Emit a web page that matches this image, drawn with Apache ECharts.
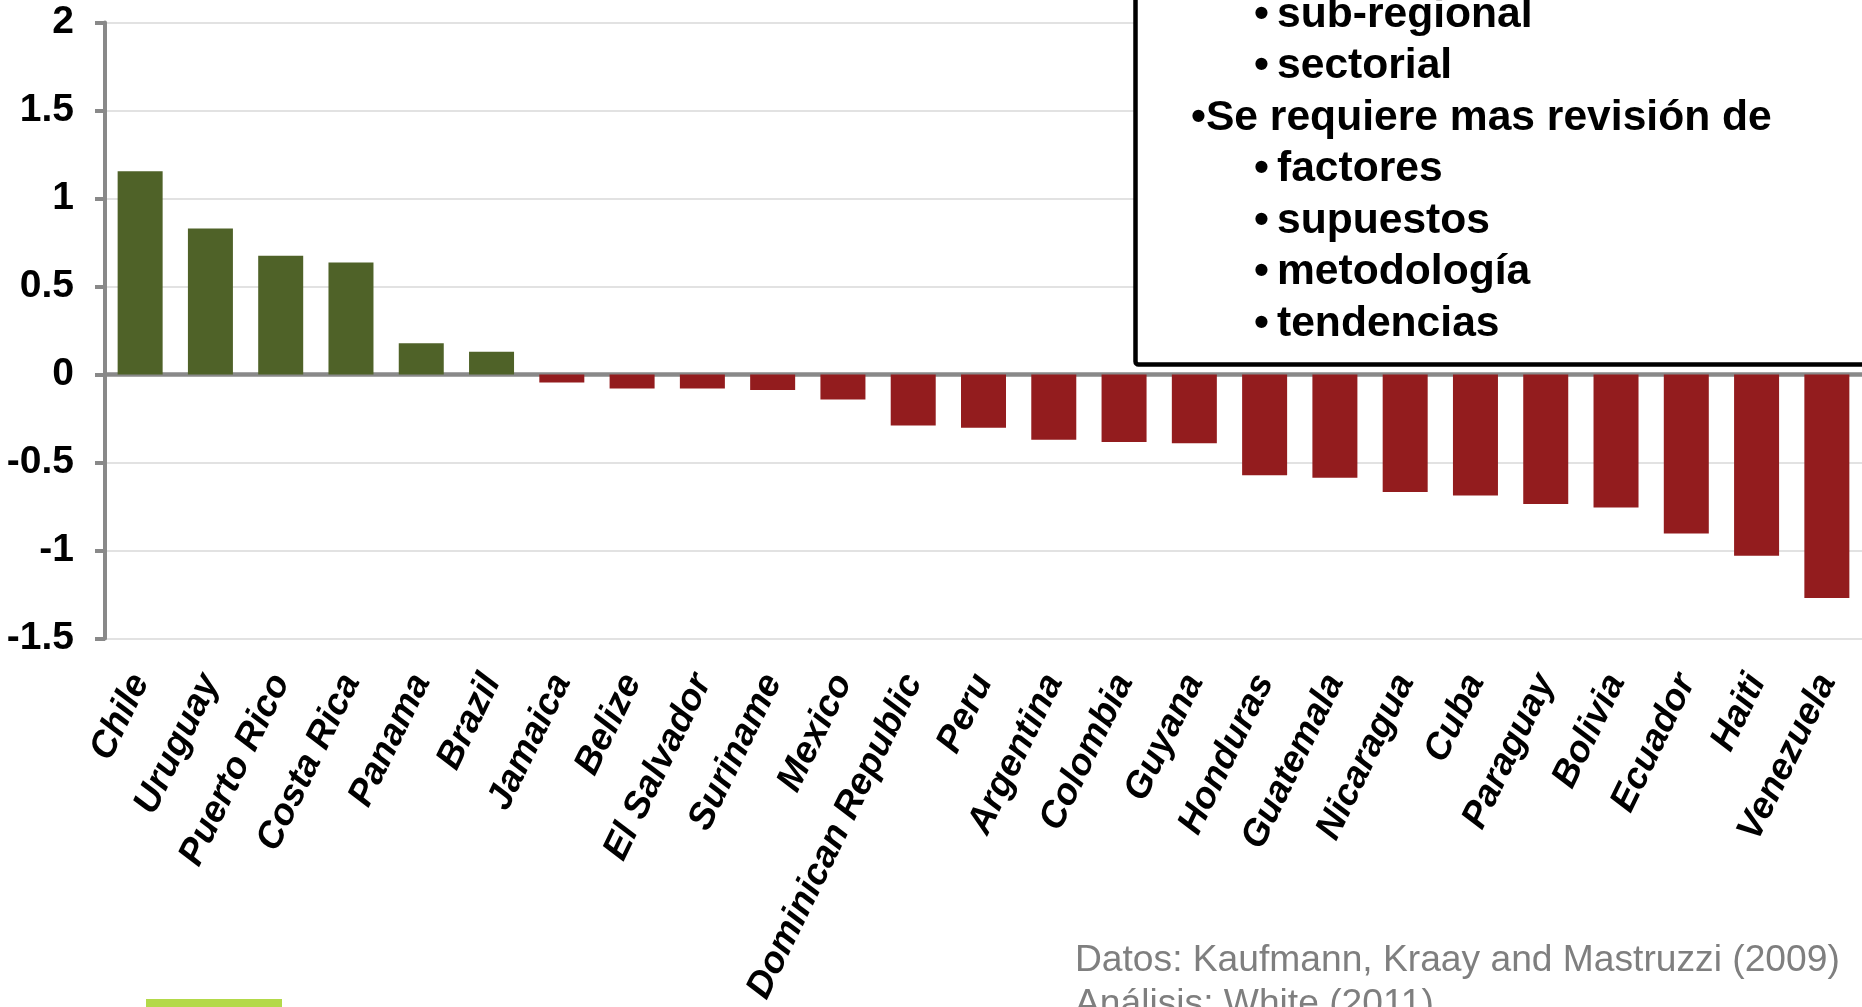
<!DOCTYPE html>
<html>
<head>
<meta charset="utf-8">
<script src="https://cdn.jsdelivr.net/npm/echarts@6/dist/echarts.min.js"></script>
<style>
html,body{margin:0;padding:0;background:#fff;}
#chart{width:1862px;height:1007px;}
</style>
</head>
<body>
<div id="chart"></div>
<script>
var countries = ["Chile","Uruguay","Puerto Rico","Costa Rica","Panama","Brazil","Jamaica","Belize","El Salvador","Suriname","Mexico","Dominican Republic","Peru","Argentina","Colombia","Guyana","Honduras","Guatemala","Nicaragua","Cuba","Paraguay","Bolivia","Ecuador","Haiti","Venezuela"];
var values = [1.155,0.83,0.675,0.637,0.177,0.13,-0.045,-0.08,-0.08,-0.088,-0.142,-0.29,-0.303,-0.37,-0.383,-0.39,-0.573,-0.587,-0.667,-0.687,-0.735,-0.755,-0.903,-1.03,-1.27];
var yTicks = {min:-1.5, max:2, interval:0.5};
var boxLines = [
  {t:"sub-regional", sub:true},
  {t:"sectorial", sub:true},
  {t:"•Se requiere mas revisión de", sub:false},
  {t:"factores", sub:true},
  {t:"supuestos", sub:true},
  {t:"metodología", sub:true},
  {t:"tendencias", sub:true}
];
var sourceLines = ["Datos: Kaufmann, Kraay and Mastruzzi (2009)","Análisis: White (2011)"];

var FONT = "'Liberation Sans', Arial, Helvetica, sans-serif";
var chart = echarts.init(document.getElementById('chart'), null, {renderer:'canvas'});

var graphics = [];
graphics.push({
  type:'rect', z:100,
  shape:{x:1135.5, y:-20, width:800, height:384.5, r:3},
  style:{fill:'#fff', stroke:'#000', lineWidth:4.5}
});
boxLines.forEach(function(l, i){
  var y = 30 + i*51.5 - 15;
  var font = 'bold 42.6px ' + FONT;
  if (l.sub) {
    graphics.push({type:'text', z:101, x:1254, y:y,
      style:{text:'•', font:font, fill:'#000', verticalAlign:'middle', align:'left'}});
    graphics.push({type:'text', z:101, x:1277, y:y,
      style:{text:l.t, font:font, fill:'#000', verticalAlign:'middle', align:'left'}});
  } else {
    graphics.push({type:'text', z:101, x:1191, y:y,
      style:{text:l.t, font:font, fill:'#000', verticalAlign:'middle', align:'left'}});
  }
});
sourceLines.forEach(function(s, i){
  graphics.push({
    type:'text', z:101,
    x:1075, y:961 + i*44,
    style:{text:s, font:'37.2px ' + FONT, fill:'#7f7f7f', verticalAlign:'middle', align:'left'}
  });
});
graphics.push({
  type:'rect', z:101,
  shape:{x:146, y:999, width:136, height:10},
  style:{fill:'#b3d94a'}
});

chart.setOption({
  animation:false,
  backgroundColor:'#fff',
  grid:{left:105, right:-2, top:22.5, bottom:368, containLabel:false},
  xAxis:{
    type:'category',
    data:countries,
    axisLine:{onZero:true, lineStyle:{color:'#898989', width:4.5}},
    axisTick:{show:false},
    axisLabel:{
      interval:0, rotate:64, margin:38,
      fontFamily:FONT, fontSize:37, fontWeight:'bold', fontStyle:'italic', color:'#000',
      verticalAlign:'middle', padding:[15,0,0,0]
    },
    splitLine:{show:false}
  },
  yAxis:{
    type:'value',
    min:yTicks.min, max:yTicks.max, interval:yTicks.interval,
    axisLine:{show:true, onZero:false, lineStyle:{color:'#898989', width:4}},
    axisTick:{show:true, length:10, lineStyle:{color:'#898989', width:4}},
    axisLabel:{fontFamily:FONT, fontSize:39, fontWeight:'bold', color:'#000', margin:31},
    splitLine:{show:true, lineStyle:{color:'#d9d9d9', width:1.5}}
  },
  series:[{
    type:'bar',
    data:values.map(function(v){
      return {value:v, itemStyle:{color: v >= 0 ? '#4f6228' : '#931c1e'}};
    }),
    barWidth:45
  }],
  graphic:graphics
});
</script>
</body>
</html>
